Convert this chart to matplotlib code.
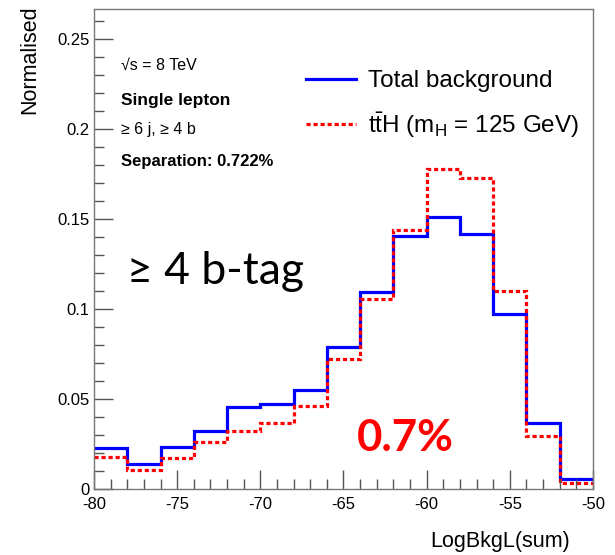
import matplotlib
matplotlib.use("Agg")
import matplotlib.pyplot as plt
from matplotlib.ticker import MultipleLocator, FixedLocator

plt.rcParams['font.family'] = ['Liberation Sans', 'DejaVu Sans']
plt.rcParams['mathtext.fontset'] = 'custom'
plt.rcParams['mathtext.rm'] = 'Liberation Sans'

# --- data ---
bin_edges = [-80, -78, -76, -74, -72, -70, -68, -66, -64, -62, -60, -58, -56, -54, -52, -50]
background = [0.0230, 0.0141, 0.0235, 0.0320, 0.0454, 0.0474, 0.0551, 0.0789,
              0.1093, 0.1407, 0.1513, 0.1415, 0.0970, 0.0369, 0.0056]
tth_signal = [0.0180, 0.0106, 0.0174, 0.0259, 0.0322, 0.0369, 0.0459, 0.0722,
              0.1054, 0.1439, 0.1776, 0.1726, 0.1102, 0.0294, 0.0031]
x_ticks = [-80, -75, -70, -65, -60, -55, -50]
y_ticks = [0, 0.05, 0.1, 0.15, 0.2, 0.25]
y_tick_labels = ["0", "0.05", "0.1", "0.15", "0.2", "0.25"]

fig = plt.figure(figsize=(6.15, 5.55), dpi=100)
ax = fig.add_axes([94 / 615, 66 / 555, 499 / 615, 480 / 555])

ax.stairs(background, bin_edges, baseline=None, color="#0000ff", lw=2.3,
          label="Total background")
ax.stairs(tth_signal, bin_edges, baseline=None, color="#ff0000", lw=2.3,
          linestyle=(0, (1.3, 0.9)),
          label=r"t$\bar{\mathrm{t}}$H (m$_{\mathrm{H}}$ = 125 GeV)")

ax.set_xlim(-80, -50)
ax.set_ylim(0, 0.2667)

# ROOT-style axes
ax.xaxis.set_major_locator(FixedLocator(x_ticks))
ax.xaxis.set_minor_locator(MultipleLocator(1))
ax.set_xticklabels([str(v) for v in x_ticks])
ax.set_yticks(y_ticks)
ax.set_yticklabels(y_tick_labels)
ax.yaxis.set_minor_locator(MultipleLocator(0.01))
ax.tick_params(which="both", direction="in", top=False, right=False,
               color="#555555", labelsize=12, width=1)
ax.tick_params(which="major", length=14)
ax.tick_params(which="minor", length=7)
ax.tick_params(axis="x", pad=6)
ax.tick_params(axis="y", pad=3)
for s in ax.spines.values():
    s.set_color("#777777")
    s.set_linewidth(1)

fig.text(30 / 615, 1 - 5 / 555, "Normalised", rotation=90, fontsize=15.5,
         ha="center", va="top")
fig.text(570 / 615, 1 - 541 / 555, "LogBkgL(sum)", fontsize=15.5,
         ha="right", va="center")

# annotations
ax.text(-78.4, 0.2354, "√s = 8 TeV", fontsize=11.5, va="center")
ax.text(-78.4, 0.2161, "Single lepton", fontsize=12.5, fontweight="bold", va="center")
ax.text(-78.4, 0.1995, "≥ 6 j, ≥ 4 b", fontsize=11.5, va="center")
ax.text(-78.4, 0.1817, "Separation: 0.722%", fontsize=12, fontweight="bold", va="center")
ax.text(-78.0, 0.1210, "≥ 4 b-tag", fontsize=32, family=["Lato", "DejaVu Sans"],
        va="center")
ax.text(-64.2, 0.0283, "0.7%", fontsize=31.5, family=["Lato", "DejaVu Sans"],
        fontweight="bold", color="#ff0000", va="center")

ax.legend(loc="upper left", bbox_to_anchor=(0.406, 0.893), frameon=False,
          fontsize=17.5, handlelength=2.05, handletextpad=0.5, labelspacing=0.75,
          borderaxespad=0)

fig.savefig("out.png", dpi=100, facecolor="white")
